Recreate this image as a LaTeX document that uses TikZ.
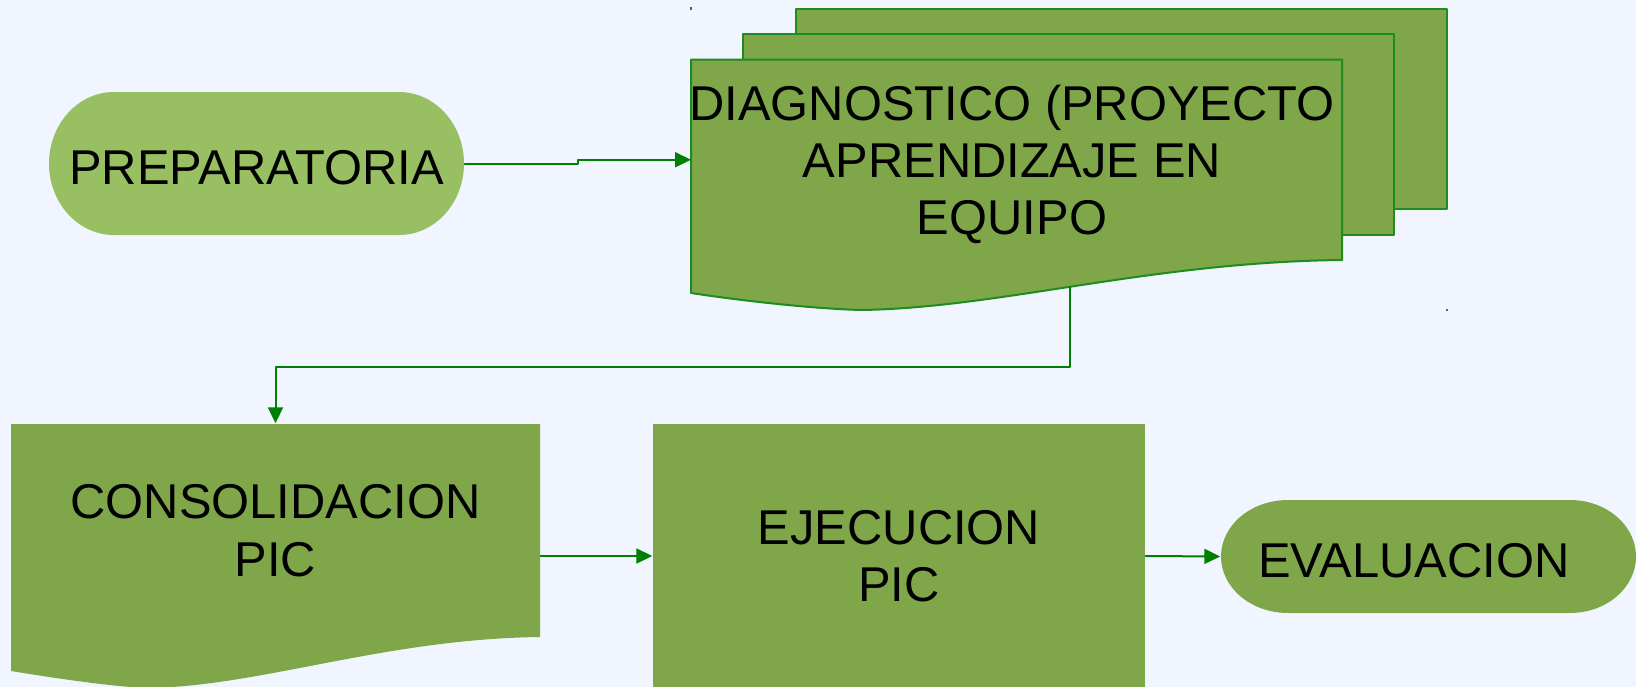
\documentclass[tikz,border=0pt]{standalone}
\usepackage{fontspec}
\setmainfont{Liberation Sans}
\usetikzlibrary{arrows.meta}
\definecolor{fondo}{RGB}{240,245,255}
\definecolor{verde}{RGB}{127,167,74}
\definecolor{verdeclaro}{RGB}{152,191,97}
\definecolor{borde}{RGB}{30,140,30}
\definecolor{flecha}{RGB}{0,128,0}

\begin{document}
\begin{tikzpicture}[line cap=round,line join=round,>={Triangle[length=0.16cm,width=0.15cm]},x=1.0cm,y=1.0cm,
  letra/.style={font=\fontsize{13.9}{16.3}\selectfont,align=center,inner sep=0pt},
  texto/.style={letra,text height=0.41cm,text depth=0pt},
  textos/.style={letra,text depth=-0.06cm},
  pila/.style={fill=verde,draw=borde,line width=0.02cm},
  flujo/.style={->,draw=flecha,line width=0.02cm}]
\useasboundingbox (0,0) rectangle (16.36,-6.87);
\fill[fondo] (0,0) rectangle (16.36,-6.87);
% formas
\fill[verdeclaro] (1.14,-0.92) -- (3.99,-0.92) arc (90:-90:0.65 and 0.715) -- (1.14,-2.35) arc (270:90:0.65 and 0.715) -- cycle;
\filldraw[pila] (7.956,-0.085) rectangle (14.466,-2.09);
\filldraw[pila] (7.433,-0.34) rectangle (13.943,-2.345);
\filldraw[pila] (6.91,-0.595) -- (13.42,-0.595) -- (13.42,-2.60) .. controls (11.5,-2.62) and (10.0,-3.08) .. (8.61,-3.10) .. controls (8.2,-3.09) and (7.5,-3.02) .. (6.91,-2.93) -- cycle;
\fill[verde] (0.11,-4.24) -- (5.40,-4.24) -- (5.40,-6.37) .. controls (3.84,-6.39) and (2.62,-6.86) .. (1.49,-6.88) .. controls (1.15,-6.87) and (0.6,-6.79) .. (0.11,-6.71) -- cycle;
\fill[verde] (6.53,-4.24) rectangle (11.45,-6.90);
\fill[verde] (12.88,-5.00) -- (15.70,-5.00) arc (90:-90:0.66 and 0.565) -- (12.88,-6.13) arc (270:90:0.67 and 0.565) -- cycle;
\fill[borde] (6.90,-0.07) rectangle (6.915,-0.10);
\fill[borde] (14.46,-3.09) rectangle (14.475,-3.11);
% textos
\node[texto,minimum width=4.15cm,minimum height=1.43cm] (prep) at (2.565,-1.635) {PREPARATORIA};
\node[textos,minimum width=6.51cm,minimum height=2.005cm] (diag) at (10.12,-1.5975) {DIAGNOSTICO (PROYECTO\\APRENDIZAJE EN\\EQUIPO};
\node[textos,minimum width=5.29cm,minimum height=2.13cm] (consol) at (2.755,-5.305) {CONSOLIDACION\\PIC};
\node[textos,minimum width=4.92cm,minimum height=2.64cm] (ejec) at (8.99,-5.56) {EJECUCION\\PIC};
\node[texto,minimum width=3.86cm,minimum height=1.13cm] (eval) at (14.14,-5.565) {EVALUACION};
% flechas
\coordinate (diag-sal) at (10.695,-2.87);
\draw[flujo] (prep.east) -- ++(1.135,0) |- (6.91,-1.5975);
\draw[flujo] (diag-sal) -- ++(0,-0.80) -| (consol.north);
\draw[flujo] (consol.east |- ejec.west) -- (ejec.west);
\draw[flujo] (ejec.east) -- (eval.west);
\end{tikzpicture}
\end{document}
